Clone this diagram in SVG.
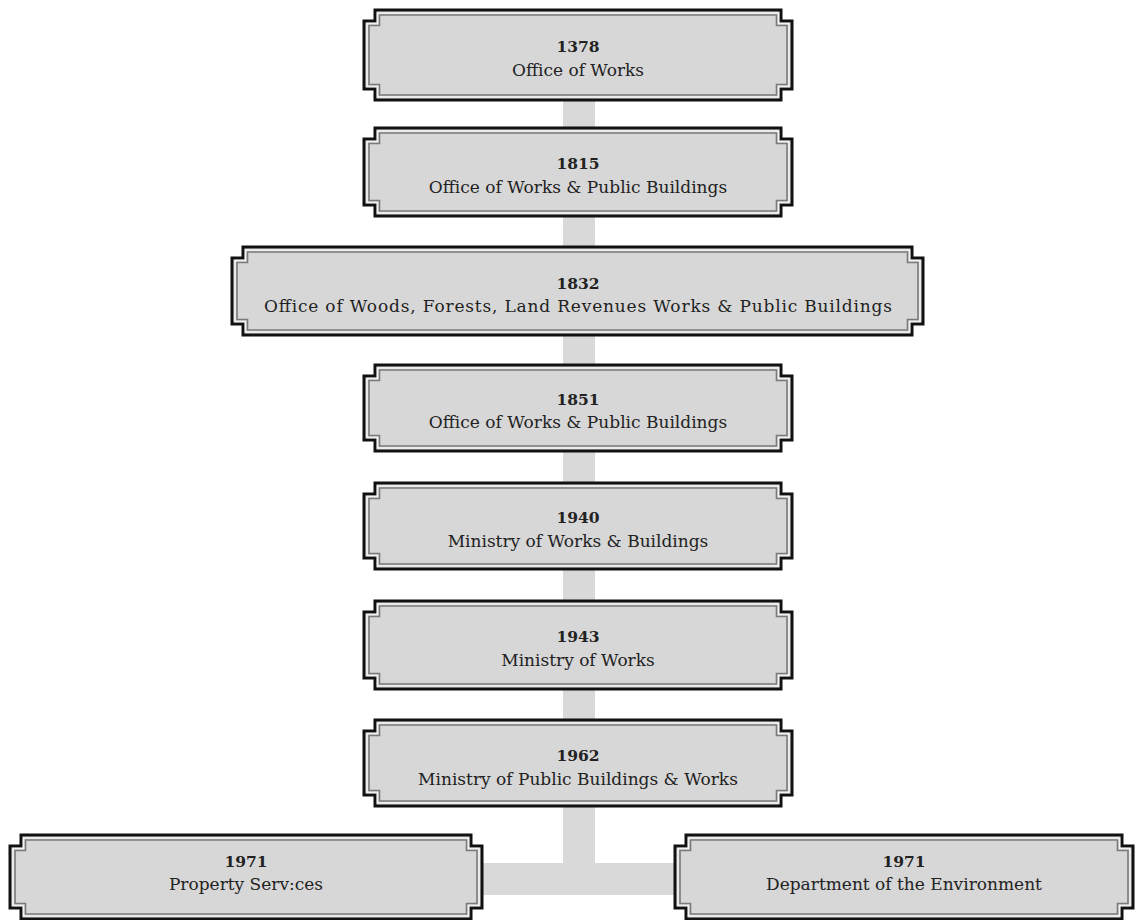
<svg xmlns="http://www.w3.org/2000/svg" width="1137" height="920" viewBox="0 0 1137 920">
<style>
.outer{fill:#d7d7d7;stroke:#111;stroke-width:3;stroke-linejoin:miter}
.mid{fill:none;stroke:#f2f2f2;stroke-width:1.5}
.inner{fill:none;stroke:#7a7a7a;stroke-width:1.6}
.yr{font-family:"DejaVu Serif","Liberation Serif",serif;font-weight:bold;font-size:15.5px;fill:#222;text-anchor:middle}
.lb{font-family:"DejaVu Serif","Liberation Serif",serif;font-size:17px;fill:#222;text-anchor:middle}
.band{fill:#d9d9d9}
</style>
<rect width="1137" height="920" fill="#fff"/>
<g id="connectors">
<rect class="band" x="563" y="95" width="32" height="800"/>
<rect class="band" x="480" y="863" width="198" height="32"/>
</g>
<g id="n1378">
<path class="outer" d="M375,10H781V21H792V89H781V100H375V89H364V21H375Z"/>
<path class="mid" d="M377.5,13H778.5V23.5H789V86.5H778.5V97H377.5V86.5H367V23.5H377.5Z"/>
<path class="inner" d="M379.5,15H776.5V25.5H787V84.5H776.5V95H379.5V84.5H369V25.5H379.5Z"/>
<text class="yr" x="578" y="52">1378</text>
<text class="lb" x="578" y="76">Office of Works</text>
</g>
<g id="n1815">
<path class="outer" d="M375,128H781V139H792V205H781V216H375V205H364V139H375Z"/>
<path class="mid" d="M377.5,131H778.5V141.5H789V202.5H778.5V213H377.5V202.5H367V141.5H377.5Z"/>
<path class="inner" d="M379.5,133H776.5V143.5H787V200.5H776.5V211H379.5V200.5H369V143.5H379.5Z"/>
<text class="yr" x="578" y="169">1815</text>
<text class="lb" x="578" y="193">Office of Works &amp; Public Buildings</text>
</g>
<g id="n1832">
<path class="outer" d="M243,247H912V258H923V324H912V335H243V324H232V258H243Z"/>
<path class="mid" d="M245.5,250H909.5V260.5H920V321.5H909.5V332H245.5V321.5H235V260.5H245.5Z"/>
<path class="inner" d="M247.5,252H907.5V262.5H918V319.5H907.5V330H247.5V319.5H237V262.5H247.5Z"/>
<text class="yr" x="578" y="289">1832</text>
<text class="lb" x="578" y="312" textLength="628" lengthAdjust="spacing">Office of Woods, Forests, Land Revenues Works &amp; Public Buildings</text>
</g>
<g id="n1851">
<path class="outer" d="M375,365H781V376H792V440H781V451H375V440H364V376H375Z"/>
<path class="mid" d="M377.5,368H778.5V378.5H789V437.5H778.5V448H377.5V437.5H367V378.5H377.5Z"/>
<path class="inner" d="M379.5,370H776.5V380.5H787V435.5H776.5V446H379.5V435.5H369V380.5H379.5Z"/>
<text class="yr" x="578" y="405">1851</text>
<text class="lb" x="578" y="428">Office of Works &amp; Public Buildings</text>
</g>
<g id="n1940">
<path class="outer" d="M375,483H781V494H792V558H781V569H375V558H364V494H375Z"/>
<path class="mid" d="M377.5,486H778.5V496.5H789V555.5H778.5V566H377.5V555.5H367V496.5H377.5Z"/>
<path class="inner" d="M379.5,488H776.5V498.5H787V553.5H776.5V564H379.5V553.5H369V498.5H379.5Z"/>
<text class="yr" x="578" y="523">1940</text>
<text class="lb" x="578" y="547">Ministry of Works &amp; Buildings</text>
</g>
<g id="n1943">
<path class="outer" d="M375,601H781V612H792V678H781V689H375V678H364V612H375Z"/>
<path class="mid" d="M377.5,604H778.5V614.5H789V675.5H778.5V686H377.5V675.5H367V614.5H377.5Z"/>
<path class="inner" d="M379.5,606H776.5V616.5H787V673.5H776.5V684H379.5V673.5H369V616.5H379.5Z"/>
<text class="yr" x="578" y="642">1943</text>
<text class="lb" x="578" y="666">Ministry of Works</text>
</g>
<g id="n1962">
<path class="outer" d="M375,720H781V731H792V795H781V806H375V795H364V731H375Z"/>
<path class="mid" d="M377.5,723H778.5V733.5H789V792.5H778.5V803H377.5V792.5H367V733.5H377.5Z"/>
<path class="inner" d="M379.5,725H776.5V735.5H787V790.5H776.5V801H379.5V790.5H369V735.5H379.5Z"/>
<text class="yr" x="578" y="761">1962</text>
<text class="lb" x="578" y="785">Ministry of Public Buildings &amp; Works</text>
</g>
<g id="n1971a">
<path class="outer" d="M21,835H471V846H482V908H471V919H21V908H10V846H21Z"/>
<path class="mid" d="M23.5,838H468.5V848.5H479V905.5H468.5V916H23.5V905.5H13V848.5H23.5Z"/>
<path class="inner" d="M25.5,840H466.5V850.5H477V903.5H466.5V914H25.5V903.5H15V850.5H25.5Z"/>
<text class="yr" x="246" y="867">1971</text>
<text class="lb" x="246" y="890">Property Serv:ces</text>
</g>
<g id="n1971b">
<path class="outer" d="M686,835H1122V846H1133V908H1122V919H686V908H675V846H686Z"/>
<path class="mid" d="M688.5,838H1119.5V848.5H1130V905.5H1119.5V916H688.5V905.5H678V848.5H688.5Z"/>
<path class="inner" d="M690.5,840H1117.5V850.5H1128V903.5H1117.5V914H690.5V903.5H680V850.5H690.5Z"/>
<text class="yr" x="904" y="867">1971</text>
<text class="lb" x="904" y="890">Department of the Environment</text>
</g>
</svg>
